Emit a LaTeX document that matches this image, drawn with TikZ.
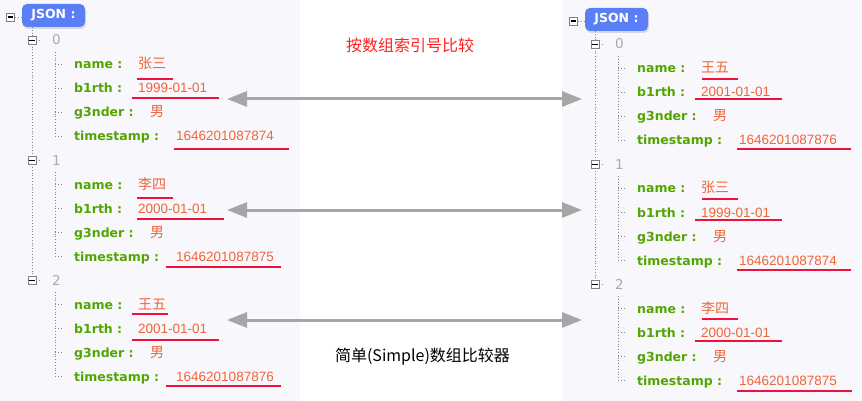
\documentclass[tikz,border=0pt]{standalone}
\usepackage{fontspec}
\setmainfont{DejaVu Sans}
\newfontfamily\cjk{Noto Sans CJK SC}
\newfontfamily\numfont{Liberation Sans}
\usetikzlibrary{arrows.meta,shadows}
\definecolor{panelbg}{HTML}{F8F8FC}
\definecolor{badgeblue}{HTML}{5A7EF6}
\definecolor{keygreen}{HTML}{52A500}
\definecolor{valcol}{HTML}{F0653A}
\definecolor{ulred}{HTML}{F0103C}
\definecolor{idxgray}{HTML}{AAAAAA}
\definecolor{arrgray}{HTML}{A6A6A6}
\definecolor{titlered}{HTML}{FF2222}
\definecolor{treegray}{HTML}{888888}
\tikzset{
  treeline/.style={draw=treegray, dotted, line width=0.8pt},
  minusbox/.style={draw=gray, fill=white, line width=0.8pt, minimum size=8pt, inner sep=0pt,
    path picture={\draw[black, line width=1.2pt] ([xshift=-2.6pt]path picture bounding box.center) -- ([xshift=2.6pt]path picture bounding box.center);}},
  badge/.style={fill=badgeblue, rounded corners=5pt, minimum width=63pt, minimum height=23pt, inner sep=0pt,
    text=white, font=\bfseries\fontsize{12.5}{14}\selectfont,
    drop shadow={opacity=0.25, shadow xshift=1pt, shadow yshift=-2pt}},
  keytext/.style={anchor=base west, inner sep=0pt, text=keygreen, font=\bfseries\fontsize{12.5}{14}\selectfont},
  valtext/.style={anchor=base west, inner sep=0pt, text=valcol},
  idxtext/.style={anchor=base west, inner sep=0pt, text=idxgray, font=\fontsize{13.5}{15}\selectfont},
  uline/.style={draw=ulred, line width=1.8pt},
  biarrow/.style={draw=arrgray, line width=3pt, {Triangle[length=20pt,width=15pt]}-{Triangle[length=20pt,width=15pt]}},
  titletext/.style={inner sep=0pt, font=\cjk\fontsize{16}{18}\selectfont}
}
\newcommand\cjkval{\cjk\fontsize{14}{16}\selectfont}
\newcommand\numval{\numfont\fontsize{13.5}{15}\selectfont}
\newcommand\drawpanel[4]{%
  \begin{scope}[shift={(#2,#3)}]
    \draw[treeline] (15,17) -- (22,17);
    \draw[treeline] (32,27) -- (32,277);
    \node[badge] (#1json) at (53.5,15.5) {JSON :};
    \node[minusbox] (#1root) at (10.5,17) {};
    \foreach \g/\nm/\bd/\ts in {#4} {
      \begin{scope}[shift={(0,{120*\g})}]
        \draw[treeline] (36,40.5) -- (41,40.5);
        \node[minusbox] (#1box\g) at (32,40.5) {};
        \node[idxtext] (#1idx\g) at (52,45) {\g};
        \draw[treeline] (55,52) -- (55,136);
        \foreach \ry in {64,88,112,136} {\draw[treeline] (55,\ry) -- (62,\ry);}
        \node[keytext] (#1kname\g) at (74,69) {name :};
        \node[keytext] (#1kbirth\g) at (74,93) {b1rth :};
        \node[keytext] (#1kgender\g) at (74,117) {g3nder :};
        \node[keytext] (#1kts\g) at (74,141) {timestamp :};
        \node[valtext] (#1vname\g) at (138,69) {\cjkval \nm};
        \node[valtext] (#1vbirth\g) at (138,93) {\numval \bd};
        \node[valtext] (#1vgender\g) at (150,117) {\cjkval 男};
        \node[valtext] (#1vts\g) at (176,141) {\numval \ts};
      \end{scope}
    }
  \end{scope}}
\begin{document}
\begin{tikzpicture}[x=1pt,y=-1pt]
\useasboundingbox (0,0) rectangle (862,401);
\fill[white] (0,0) rectangle (862,401);
\fill[panelbg] (0,0) rectangle (300,401);
\fill[panelbg] (562,0) rectangle (862,401);

\drawpanel{L}{0}{0}{0/张三/1999-01-01/1646201087874, 1/李四/2000-01-01/1646201087875, 2/王五/2001-01-01/1646201087876}
\drawpanel{R}{563}{4}{0/王五/2001-01-01/1646201087876, 1/张三/1999-01-01/1646201087874, 2/李四/2000-01-01/1646201087875}

% underlines, left
\draw[uline] (137,79) -- (173,79);
\draw[uline] (132,98) -- (219,98);
\draw[uline] (174,149) -- (289,149);
\draw[uline] (137,198) -- (173,198);
\draw[uline] (137,219) -- (224,219);
\draw[uline] (166,267) -- (281,267);
\draw[uline] (132,314) -- (168,314);
\draw[uline] (132,340) -- (219,340);
\draw[uline] (166,386) -- (281,386);
% underlines, right
\draw[uline] (702,79) -- (738,79);
\draw[uline] (695,99) -- (782,99);
\draw[uline] (737,149) -- (851,149);
\draw[uline] (702,199) -- (738,199);
\draw[uline] (695,220) -- (782,220);
\draw[uline] (737,270) -- (851,270);
\draw[uline] (702,319) -- (738,319);
\draw[uline] (695,341) -- (782,341);
\draw[uline] (737,391) -- (852,391);

% arrows
\coordinate (aL0) at (227,99);  \coordinate (aR0) at (582,99);
\coordinate (aL1) at (227,210); \coordinate (aR1) at (582,210);
\coordinate (aL2) at (227,320); \coordinate (aR2) at (582,320);
\draw[biarrow] (aL0) -- (aR0);
\draw[biarrow] (aL1) -- (aR1);
\draw[biarrow] (aL2) -- (aR2);

\node[titletext, text=titlered] (title) at (410,45) {按数组索引号比较};
\node[titletext, text=black] (caption) at (422.5,357) {简单(Simple)数组比较器};
\end{tikzpicture}
\end{document}
